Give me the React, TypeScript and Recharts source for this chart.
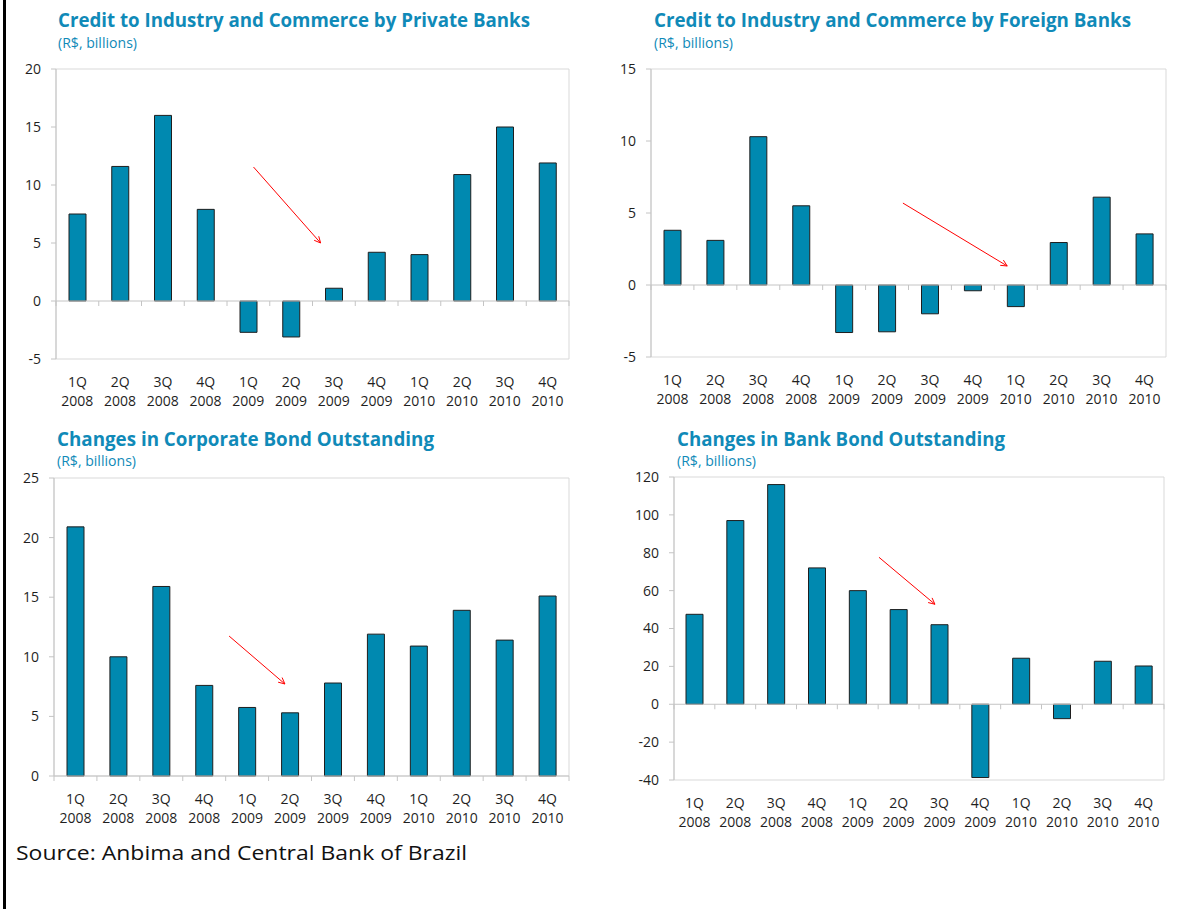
import React from 'react';
import { BarChart, Bar, XAxis, YAxis, ReferenceLine, ReferenceArea } from 'recharts';

// ---------- data ----------
const quarters = ['1Q', '2Q', '3Q', '4Q', '1Q', '2Q', '3Q', '4Q', '1Q', '2Q', '3Q', '4Q'];
const years = ['2008', '2008', '2008', '2008', '2009', '2009', '2009', '2009', '2010', '2010', '2010', '2010'];

const privateBanks = [7.5, 11.6, 16.0, 7.9, -2.7, -3.1, 1.1, 4.2, 4.0, 10.9, 15.0, 11.9];
const foreignBanks = [3.8, 3.1, 10.3, 5.5, -3.3, -3.25, -2.0, -0.4, -1.5, 2.95, 6.1, 3.55];
const corporateBonds = [20.9, 10.0, 15.9, 7.6, 5.75, 5.3, 7.8, 11.9, 10.9, 13.9, 11.4, 15.1];
const bankBonds = [47.5, 97, 116, 72, 60, 50, 42, -38.7, 24.3, -7.6, 22.7, 20.2];

const privateTicks = [-5, 0, 5, 10, 15, 20];
const foreignTicks = [-5, 0, 5, 10, 15];
const corporateTicks = [0, 5, 10, 15, 20, 25];
const bankTicks = [-40, -20, 0, 20, 40, 60, 80, 100, 120];

// arrow annotations in data coordinates: [xStart, yStart, xEnd, yEnd]
const privateArrow = [4.12, 11.55, 5.69, 5.0];
const foreignArrow = [5.37, 5.69, 7.8, 1.32];
const corporateArrow = [3.58, 11.74, 4.88, 7.72];
const bankArrow = [4.52, 77.6, 5.89, 52.8];

const titles = [
  'Credit to Industry and Commerce by Private Banks',
  'Credit to Industry and Commerce by Foreign Banks',
  'Changes in Corporate Bond Outstanding',
  'Changes in Bank Bond Outstanding',
];
const subtitle = '(R$, billions)';
const sourceText = 'Source: Anbima and Central Bank of Brazil';

// ---------- styles ----------
const FONT = '"Open Sans", "Noto Sans", sans-serif';
const BAR_FILL = '#0089b0';
const BAR_STROKE = '#1e1e1e';
const AXIS_GRAY = '#c4c4c4';
const FRAME_GRAY = '#d9d9d9';
const TITLE_COLOR = '#108ab8';
const TEXT_COLOR = '#1f1f1f';

type PanelCfg = {
  values: number[];
  ticks: number[];
  arrow: number[];
  plot: { x0: number; x1: number; y0: number; y1: number };
  title: string;
  titleX: number;
  titleW: number;
  titleBase: number;
  subW: number;
  subBase: number;
};

const panels: PanelCfg[] = [
  { values: privateBanks, ticks: privateTicks, arrow: privateArrow, plot: { x0: 56, x1: 569, y0: 69, y1: 359 }, title: titles[0], titleX: 58, titleW: 472, titleBase: 26.5, subW: 79, subBase: 47.5 },
  { values: foreignBanks, ticks: foreignTicks, arrow: foreignArrow, plot: { x0: 651, x1: 1166, y0: 69, y1: 357 }, title: titles[1], titleX: 654, titleW: 477, titleBase: 26.5, subW: 79, subBase: 47.5 },
  { values: corporateBonds, ticks: corporateTicks, arrow: corporateArrow, plot: { x0: 54, x1: 569, y0: 478, y1: 776 }, title: titles[2], titleX: 57, titleW: 377, titleBase: 445.5, subW: 79, subBase: 466 },
  { values: bankBonds, ticks: bankTicks, arrow: bankArrow, plot: { x0: 674, x1: 1164, y0: 477, y1: 780 }, title: titles[3], titleX: 677, titleW: 328, titleBase: 445.5, subW: 79, subBase: 466 },
];

const Y_AXIS_W = 50;
const M_TOP = 10;
const M_RIGHT = 10;
const X_AXIS_H = 60;

const ZeroLine = (p: any) => {
  const { x1, x2, y1 } = p;
  const n = quarters.length;
  const step = (x2 - x1) / n;
  return (
    <g>
      <line x1={x1} x2={x2} y1={y1} y2={y1} stroke={AXIS_GRAY} strokeWidth={1} />
      {Array.from({ length: n + 1 }, (_, k) => (
        <line key={k} x1={x1 + k * step} x2={x1 + k * step} y1={y1} y2={y1 + 5} stroke={AXIS_GRAY} strokeWidth={1} />
      ))}
    </g>
  );
};

const ArrowShape = (p: any) => {
  const { x1, y1, x2, y2 } = p;
  const a = Math.atan2(y2 - y1, x2 - x1);
  const L = 7;
  const s = 0.45;
  const hx1 = x2 - L * Math.cos(a - s);
  const hy1 = y2 - L * Math.sin(a - s);
  const hx2 = x2 - L * Math.cos(a + s);
  const hy2 = y2 - L * Math.sin(a + s);
  return (
    <g>
      <line x1={x1} y1={y1} x2={x2} y2={y2} stroke="#ff0000" strokeWidth={1} />
      <polyline points={`${hx1},${hy1} ${x2},${y2} ${hx2},${hy2}`} fill="none" stroke="#ff0000" strokeWidth={1} />
    </g>
  );
};

function Panel({ cfg }: { cfg: PanelCfg }) {
  const { plot, values, ticks, arrow } = cfg;
  const left = plot.x0 - Y_AXIS_W;
  const top = plot.y0 - M_TOP;
  const width = plot.x1 - left + M_RIGHT;
  const plotBottom = plot.y1 - top;
  const height = plotBottom + X_AXIS_H;
  const data = values.map((v, i) => ({ x: i, v }));
  const yMin = ticks[0];
  const yMax = ticks[ticks.length - 1];
  const idx = quarters.map((_, i) => i);

  const XTick = (props: any) => {
    const { x, payload } = props;
    const i = payload.value as number;
    return (
      <g>
        <text x={x} y={plotBottom + 22} textAnchor="middle" dominantBaseline="central" fontFamily={FONT} fontSize={14} fill={TEXT_COLOR}>
          {quarters[i]}
        </text>
        <text x={x} y={plotBottom + 41.5} textAnchor="middle" dominantBaseline="central" fontFamily={FONT} fontSize={14} fill={TEXT_COLOR}>
          {years[i]}
        </text>
      </g>
    );
  };

  return (
    <div style={{ position: 'absolute', left, top, width, height }}>
      <BarChart width={width} height={height} data={data} margin={{ top: M_TOP, right: M_RIGHT, bottom: 0, left: 0 }}>
        <XAxis
          dataKey="x"
          type="number"
          domain={[-0.5, quarters.length - 0.5]}
          ticks={idx}
          interval={0}
          axisLine={false}
          tickLine={false}
          height={X_AXIS_H}
          tick={XTick}
        />
        <YAxis
          type="number"
          domain={[yMin, yMax]}
          ticks={ticks}
          interval={0}
          width={Y_AXIS_W}
          tickSize={5}
          tickMargin={10}
          tickLine={{ stroke: AXIS_GRAY }}
          axisLine={{ stroke: AXIS_GRAY }}
          tick={{ fontFamily: FONT, fontSize: 14, fill: TEXT_COLOR }}
        />
        <ReferenceArea x1={-0.5} x2={quarters.length - 0.5} y1={yMin} y2={yMax} fill="none" stroke={FRAME_GRAY} strokeWidth={1} />
        <Bar dataKey="v" fill={BAR_FILL} stroke={BAR_STROKE} strokeWidth={1} barSize={17} isAnimationActive={false} />
        <ReferenceLine y={0} shape={ZeroLine} />
        <ReferenceLine
          segment={[
            { x: arrow[0], y: arrow[1] },
            { x: arrow[2], y: arrow[3] },
          ]}
          shape={ArrowShape}
        />
      </BarChart>
    </div>
  );
}

export default function App() {
  return (
    <div style={{ position: 'absolute', left: 0, top: 0, width: 1204, height: 909, background: '#ffffff', overflow: 'hidden' }}>
      <div style={{ position: 'absolute', left: 3, top: 0, width: 3, height: 909, background: '#000' }} />
      {panels.map((p, i) => (
        <Panel key={i} cfg={p} />
      ))}
      <svg width={1204} height={909} style={{ position: 'absolute', left: 0, top: 0, pointerEvents: 'none' }}>
        {panels.map((p, i) => (
          <g key={i}>
            <text x={p.titleX} y={p.titleBase} fontFamily={FONT} fontWeight={700} fontSize={19} fill={TITLE_COLOR} textLength={p.titleW} lengthAdjust="spacingAndGlyphs">
              {p.title}
            </text>
            <text x={p.titleX} y={p.subBase} fontFamily={FONT} fontSize={14} fill={TITLE_COLOR} textLength={p.subW} lengthAdjust="spacingAndGlyphs">
              {subtitle}
            </text>
          </g>
        ))}
        <text x={16} y={860} fontFamily={FONT} fontSize={20} fill="#111" textLength={451} lengthAdjust="spacingAndGlyphs">
          {sourceText}
        </text>
      </svg>
    </div>
  );
}
